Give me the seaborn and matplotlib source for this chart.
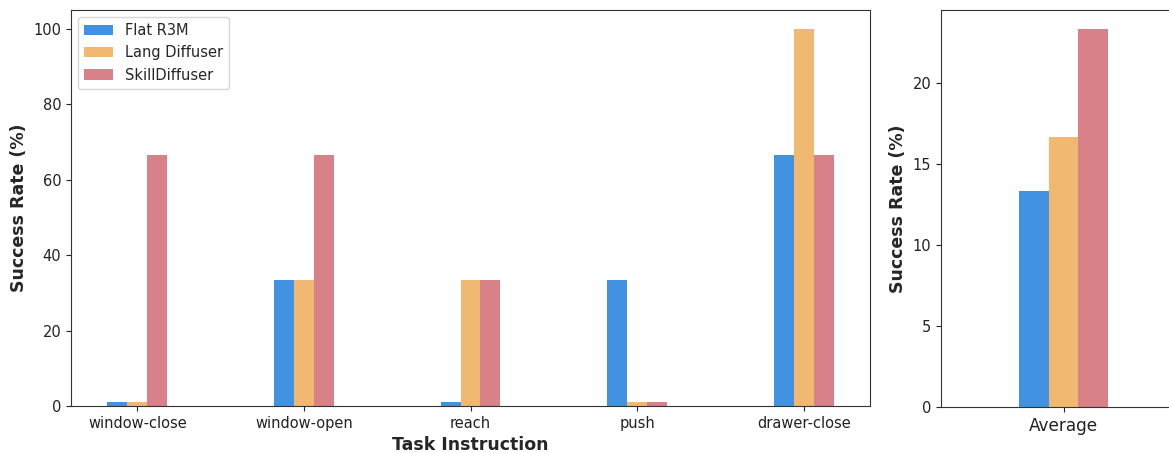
import matplotlib
matplotlib.use("Agg")
import matplotlib.pyplot as plt
import seaborn as sns
import pandas as pd

sns.set_style("ticks")
plt.rcParams["font.family"] = ["DejaVu Sans"]

tasks = ["window-close", "window-open", "reach", "push", "drawer-close"]
methods = ["Flat R3M", "Lang Diffuser", "SkillDiffuser"]
flat_r3m = [1.0, 33.33, 1.0, 33.33, 66.67]
lang_diffuser = [1.0, 33.33, 33.33, 1.0, 100.0]
skill_diffuser = [66.67, 66.67, 33.33, 1.0, 66.67]
average_label = ["Average"]
average_values = [13.33, 16.67, 23.33]

colors = ["#4192e1", "#f1b872", "#d88189"]

per_task = pd.DataFrame({
    "Task": tasks * 3,
    "Method": [m for m in methods for _ in tasks],
    "Success": flat_r3m + lang_diffuser + skill_diffuser,
})
avg = pd.DataFrame({
    "Task": average_label * 3,
    "Method": methods,
    "Success": average_values,
})

W, H = 1169, 453
fig = plt.figure(figsize=(W / 100, H / 100), dpi=100)
ax1 = fig.add_axes([71 / W, (H - 406) / H, 799 / W, 396 / H])
ax2 = fig.add_axes([941 / W, (H - 407) / H, 245 / W, 397 / H])

edge = "#333333"
for ax in (ax1, ax2):
    for s in ax.spines.values():
        s.set_color(edge)
    ax.tick_params(colors="#222222", labelsize=10.5)

sns.barplot(data=per_task, x="Task", y="Success", hue="Method", palette=colors,
            width=0.36, ax=ax1, saturation=1, errorbar=None, linewidth=0)
ax1.autoscale(enable=True, axis="x")
ax1.margins(x=0.05)
ax1.autoscale_view()
ax1.set_ylim(0, 105)
ax1.set_xlabel("Task Instruction", fontsize=12.5, fontweight="bold")
ax1.set_ylabel("Success Rate (%)", fontsize=12.5, fontweight="bold")
ax1.legend(loc="upper left", fontsize=10.5, frameon=True)

sns.barplot(data=avg, x="Task", y="Success", hue="Method", palette=colors,
            width=0.36, ax=ax2, saturation=1, errorbar=None, legend=False,
            linewidth=0)
ax2.set_xlim(-0.5, 0.5)
ax2.set_ylim(0, 24.5)
ax2.set_xlabel("")
ax2.set_ylabel("Success Rate (%)", fontsize=12.5, fontweight="bold")
ax2.tick_params(axis="x", labelsize=12.2)
ax2.set_yticks([0, 5, 10, 15, 20])

fig.savefig("out.png", dpi=100)
